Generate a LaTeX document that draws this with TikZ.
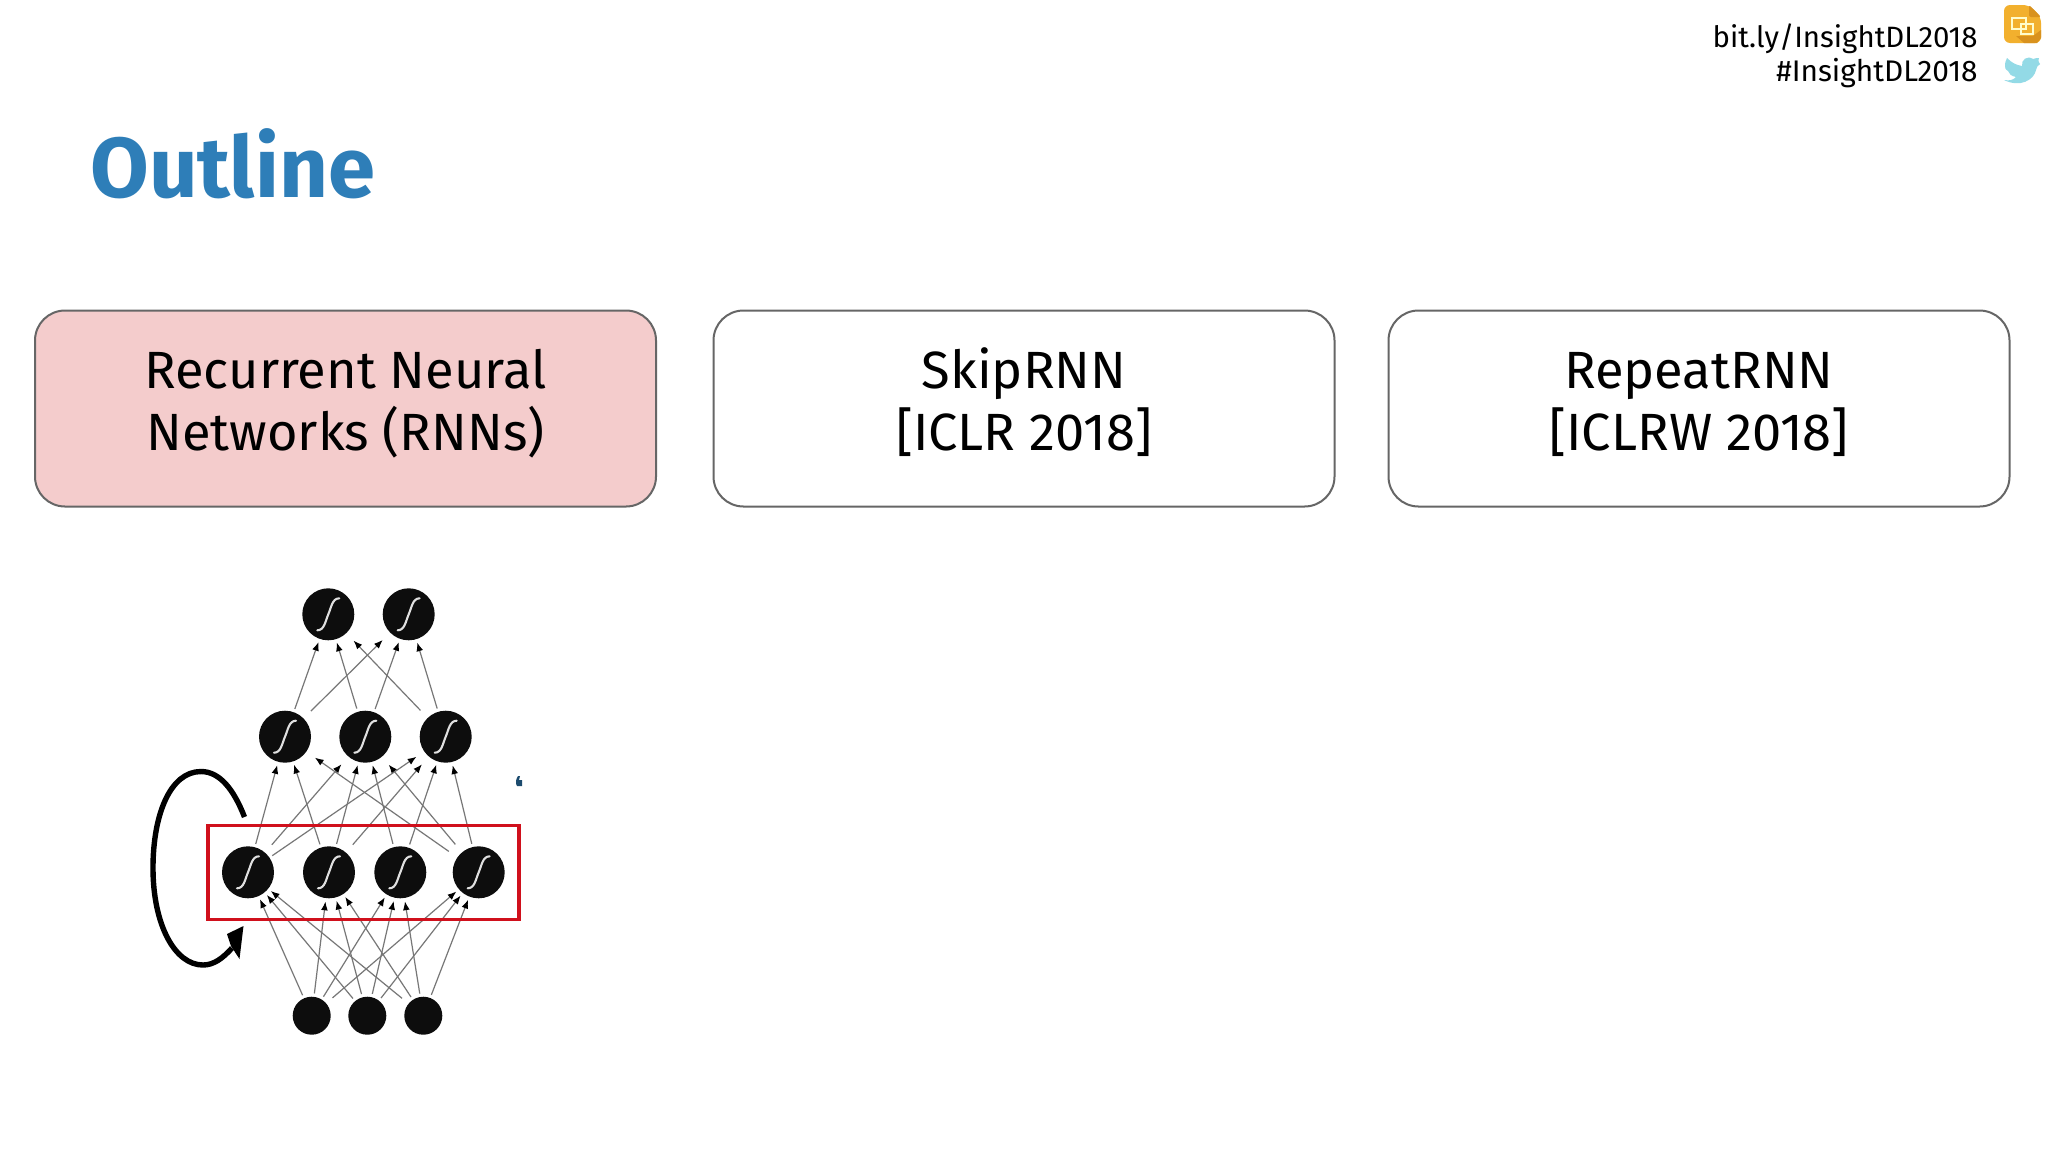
\documentclass[tikz,border=0pt]{standalone}
\usepackage{fontspec}
\setmainfont{Fira Sans}
\usetikzlibrary{arrows.meta,calc}
\definecolor{boxedge}{HTML}{666666}
\definecolor{boxpink}{HTML}{F4CCCC}
\definecolor{titleblue}{HTML}{2E7EB8}
\definecolor{edgegray}{HTML}{777777}
\definecolor{netred}{HTML}{D0101C}
\definecolor{slideyellow}{HTML}{F2B02E}
\definecolor{slidedark}{HTML}{D9921E}
\definecolor{birdblue}{HTML}{93DAE6}
\newcommand{\topstrut}{\rule{0pt}{20pt}}
\newcommand{\botstrut}{\rule[-9.5pt]{0pt}{9.5pt}}
\tikzset{
  x=0.5pt,y=-0.5pt,
  card/.style={draw=boxedge,line width=1pt,rounded corners=15pt,minimum width=310.5pt,minimum height=98pt,inner sep=0pt,align=center,font=\fontsize{26.2}{31}\selectfont},
  sigma/.style={circle,fill=black!95,inner sep=0pt,minimum size=26pt,path picture={
    \coordinate (sc) at (path picture bounding box.center);
    \draw[white!88!black,line width=1.05pt,line cap=round]
      ($(sc)+(-11,16)$) .. controls +(7,0) and +(-3,7) .. (sc)
      .. controls +(3,-7) and +(-7,0) .. ($(sc)+(11,-16)$);}},
  inp/.style={circle,fill=black!95,inner sep=0pt,minimum size=19pt},
  link/.style={draw=edgegray,line width=0.6pt,-{Latex[black,length=4.4pt,width=3.4pt]},shorten <=1.5pt,shorten >=1.5pt},
  far/.style={shorten <=5pt,shorten >=5pt},
  farstart/.style={shorten <=4pt},
  farend/.style={shorten >=4.5pt},
}
\begin{document}
\begin{tikzpicture}
\useasboundingbox (0,0) rectangle (2048,1152);
\fill[white] (0,0) rectangle (2048,1152);

\node[font=\fontsize{42.5}{50}\selectfont\bfseries,text=titleblue,anchor=base west,inner sep=0pt] (title) at (90,197.5) {Outline};
\node[font=\fontsize{14.7}{17}\selectfont,anchor=base east,inner sep=0pt] (link) at (1978,47) {bit.ly/InsightDL2018};
\node[font=\fontsize{14.9}{17}\selectfont,anchor=base east,inner sep=0pt] (tag) at (1978,81) {\#InsightDL2018};

% slides icon
\fill[slideyellow,rounded corners=3pt] (2004,5) -- (2029,5) -- (2041,17) -- (2041,43) -- (2004,43) -- cycle;
\fill[slidedark,rounded corners=1pt] (2029,5) -- (2041,17) -- (2029,17) -- cycle;
\fill[slidedark] (2016,36) -- (2033,36) -- (2041,30) -- (2041,38) -- (2037,43) -- (2024,43) -- cycle;
\draw[white!80!yellow,line width=1.1pt] (2012,18) rectangle (2026,29) (2021,24) rectangle (2033,34);
% bird icon
\fill[birdblue] (2040,64) .. controls (2037,66) and (2037,67) .. (2036,70)
  .. controls (2034,80) and (2020,88) .. (2004,80)
  .. controls (2010,81) and (2013,80) .. (2016,77)
  .. controls (2011,76) and (2009,74) .. (2008,71)
  .. controls (2005,69) and (2005,68) .. (2005,66)
  .. controls (2005,62) and (2006,60) .. (2007,58)
  .. controls (2012,63) and (2016,65) .. (2022,66)
  .. controls (2021,60) and (2027,55) .. (2033,59)
  .. controls (2036,58) and (2037,58) .. (2039,58)
  .. controls (2038,60) and (2038,61) .. (2040,64) -- cycle;

\node[card,fill=boxpink] (c1) at (345.5,408.5) {\topstrut Recurrent Neural\\\botstrut Networks (RNNs)};
\node[card] (c2) at (1024,408.5) {\topstrut SkipRNN\\\botstrut {[}ICLR 2018{]}};
\node[card] (c3) at (1699,408.5) {\topstrut RepeatRNN\\\botstrut {[}ICLRW 2018{]}};

% network
\node[sigma] (t1) at (328.3,614.3) {};
\node[sigma] (t2) at (408.7,614.3) {};
\node[sigma] (m1) at (285,736.7) {};
\node[sigma] (m2) at (365.3,736.7) {};
\node[sigma] (m3) at (445.7,736.7) {};
\node[sigma] (r1) at (248,872.3) {};
\node[sigma] (r2) at (329,872.3) {};
\node[sigma] (r3) at (400.3,872.3) {};
\node[sigma] (r4) at (478.7,872.3) {};
\node[inp] (i1) at (311.7,1015.7) {};
\node[inp] (i2) at (367.3,1015.7) {};
\node[inp] (i3) at (423.3,1015.7) {};

\foreach \a/\b/\s in {m1/t1/,m2/t1/,m2/t2/,m3/t2/,m1/t2/far,m3/t1/far,
  r1/m1/,r2/m1/,r2/m2/,r3/m2/,r3/m3/,r4/m3/,
  r1/m2/far,r2/m3/far,r4/m2/far,r4/m1/far,r1/m3/farend,
  i1/r1/,i1/r2/,i1/r3/,i1/r4/farstart,
  i2/r1/,i2/r2/,i2/r3/,i2/r4/,
  i3/r1/farstart,i3/r2/,i3/r3/,i3/r4/}
  {\draw[link,\s] (\a) -- (\b);}

\draw[netred,line width=1.8pt] (208,825.5) rectangle (519,919.5);

\coordinate (loopstart) at (244.5,817);
\coordinate (looptip) at (243.5,926);
\draw[black,line width=2.7pt] (loopstart) .. controls (234,790) and (220,771.5) .. (201,771.5)
  .. controls (170,771.5) and (153,815) .. (153,868)
  .. controls (153,925) and (175,965) .. (203,965)
  .. controls (214,965) and (223,958) .. (232,948);
\fill[black] (looptip) -- (239.5,959) -- (231,946) -- (227,934) -- cycle;

\fill[titleblue!60!black] (518,776) .. controls (516,779) and (515,783) .. (517,786) -- (522,786) -- (522,780) -- (519,780) -- (520,776) -- cycle;
\end{tikzpicture}
\end{document}
